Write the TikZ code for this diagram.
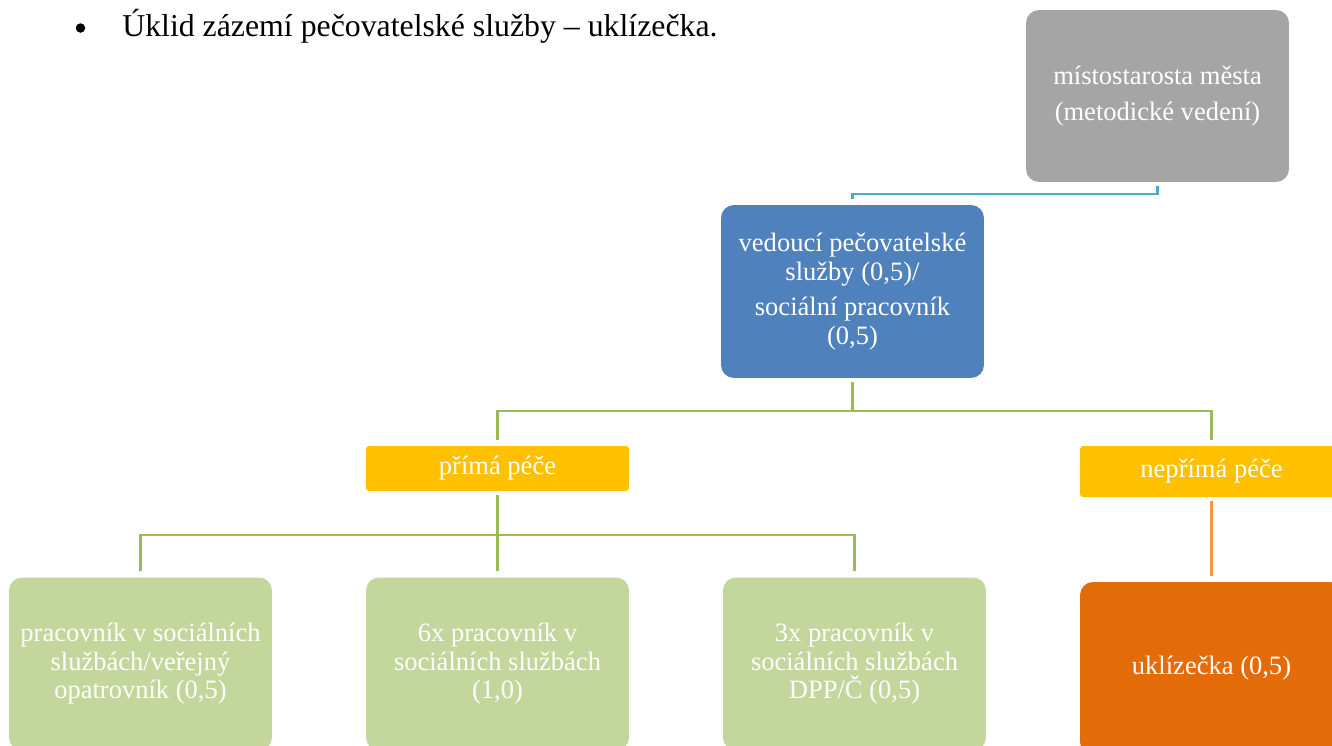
\documentclass[tikz,border=0pt]{standalone}
\usepackage{fontspec}
\setmainfont{Liberation Serif}
\usetikzlibrary{positioning}

\definecolor{boxgray}{HTML}{A5A5A5}
\definecolor{boxblue}{HTML}{4F81BD}
\definecolor{boxyellow}{HTML}{FFC000}
\definecolor{boxgreen}{HTML}{C3D69B}
\definecolor{boxorange}{HTML}{E36C09}
\definecolor{linecyan}{HTML}{4BACC6}
\definecolor{linegreen}{HTML}{9BBB59}
\definecolor{lineorange}{HTML}{F79646}

\tikzset{
    orgbox/.style={rounded corners=0.26cm, text=white, align=center,
        minimum width=5.26cm, minimum height=3.46cm, inner sep=0pt,
        font=\fontsize{15.1}{16.2}\selectfont},
    groupbox/.style={fill=boxyellow, rounded corners=0.06cm, text=white,
        minimum width=5.26cm, inner sep=0pt, font=\fontsize{15.1}{16}\selectfont},
    link/.style={line width=1.2pt}
}

\begin{document}
\begin{tikzpicture}[x=0.02cm, y=-0.02cm]
    \useasboundingbox (0,0) rectangle (1332,745);
    \clip (0,0) rectangle (1332,745);

    % heading line
    \node[circle, fill=black, inner sep=0pt, minimum size=0.19cm] (bullet) at (80.5,28) {};
    \node[anchor=base west, inner sep=0pt] (heading) at (122,36)
        {\fontsize{18.1}{20}\selectfont Úklid zázemí pečovatelské služby – uklízečka.};

    % boxes
    \node[orgbox, fill=boxgray, minimum height=3.44cm] (mistostarosta) at (1157.5,96)
        {místostarosta města\\[4.5pt](metodické vedení)};
    \node[orgbox, fill=boxblue] (vedouci) at (852.5,291.5)
        {vedoucí pečovatelské\\ služby (0,5)/\\[4pt] sociální pracovník\\ (0,5)};
    \node[groupbox, minimum height=0.9cm] (prima) at (497.5,468.5) {přímá péče};
    \node[groupbox, minimum height=1.02cm] (neprima) at (1211.5,471.5) {nepřímá péče};

    \node[orgbox, fill=boxgreen] (pracovnik) at (140.5,664)
        {pracovník v sociálních\\ službách/veřejný\\ opatrovník (0,5)};
    \node[orgbox, fill=boxgreen] (sestx) at (497.5,664)
        {6x pracovník v\\ sociálních službách\\ (1,0)};
    \node[orgbox, fill=boxgreen] (trix) at (854.5,664)
        {3x pracovník v\\ sociálních službách\\ DPP/Č (0,5)};
    \node[orgbox, fill=boxorange] (uklizecka) at (1211.5,668.5) {uklízečka (0,5)};

    % connectors
    \draw[link, linecyan, shorten <=2pt, shorten >=3.5pt]
        (mistostarosta.south) -- ++(0,11.5) -| (vedouci.north);
    \draw[link, linegreen, shorten <=2pt, shorten >=3pt]
        (vedouci.south) -- ++(0,33) -| (prima.north);
    \draw[link, linegreen, shorten >=3pt]
        ([yshift=-0.66cm]vedouci.south) -| (neprima.north);
    \draw[link, linegreen, shorten <=2pt, shorten >=3.5pt]
        (prima.south) -- (sestx.north);
    \foreach \n in {pracovnik, trix} {
        \draw[link, linegreen, shorten >=3.5pt]
            ([yshift=-0.88cm]prima.south) -| (\n.north);
    }
    \draw[link, lineorange, shorten <=2pt, shorten >=3.5pt]
        (neprima.south) -- (uklizecka.north);
\end{tikzpicture}
\end{document}
